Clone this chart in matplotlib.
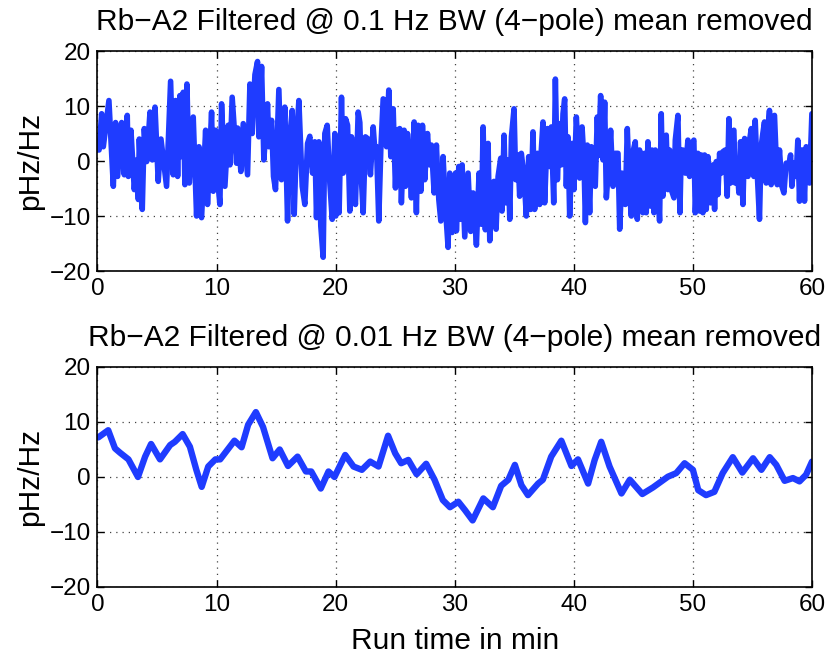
import matplotlib
matplotlib.use("Agg")
import matplotlib.pyplot as plt

# ---- data: top panel (0.1 Hz BW), minutes / pHz/Hz ----
t_top = [0.0, 0.13, 0.35, 0.49, 0.96, 1.33, 1.52, 1.69, 2.03, 2.25, 2.5, 2.59, 2.81, 3.09, 3.29, 3.43, 3.51, 3.76,
         3.93, 4.13, 4.41, 4.6, 4.83, 5.1, 5.33, 5.8, 6.14, 6.36, 6.56, 6.73, 6.92, 7.06, 7.2, 7.34, 7.51, 7.71,
         8.04, 8.32, 8.52, 8.74, 9.08, 9.24, 9.58, 9.72, 9.92,
         10.0, 10.14, 10.28, 10.42, 10.7, 10.98, 11.12, 11.31, 11.68, 11.76, 12.04, 12.24, 12.6, 12.8, 12.99,
         13.22, 13.44, 13.55, 13.78, 13.97, 14.28, 14.39, 14.62, 14.78, 14.95, 15.23, 15.45, 15.73, 15.96,
         16.15, 16.35, 16.52, 16.71, 16.91, 17.19, 17.41, 17.64, 17.83, 18.06, 18.25, 18.39, 18.59, 18.75,
         18.95, 19.09, 19.29, 19.51, 19.71, 19.93,
         20.01, 20.15, 20.29, 20.49, 20.63, 20.83, 21.0, 21.19, 21.33, 21.47, 21.66, 21.89, 22.03, 22.17,
         22.31, 22.5, 22.73, 22.92, 23.15, 23.29, 23.43, 23.62, 23.79, 23.99, 24.13, 24.27, 24.46, 24.63,
         24.83, 25.02, 25.19, 25.38, 25.52, 25.75, 25.86, 26.03, 26.22, 26.36, 26.59, 26.78, 26.92, 27.15,
         27.29, 27.48, 27.71, 27.9, 28.04, 28.27, 28.46, 28.66, 28.83, 29.02, 29.22, 29.44, 29.58, 29.78,
         29.94, 30.06,
         30.14, 30.34, 30.5, 30.62, 30.84, 31.12, 31.34, 31.54, 31.82, 32.04, 32.24, 32.38, 32.57, 32.8,
         32.94, 33.13, 33.3, 33.47, 33.64, 33.86, 33.97, 34.14, 34.28, 34.48, 34.62, 34.76, 34.98, 35.12,
         35.31, 35.45, 35.59, 35.82, 36.01, 36.21, 36.38, 36.57, 36.71, 36.94, 37.13, 37.27, 37.41, 37.55,
         37.78, 37.97, 38.11, 38.31, 38.45, 38.62, 38.81, 38.95, 39.09, 39.23, 39.37, 39.51, 39.65, 39.85,
         40.01, 40.21,
         40.49, 40.69, 40.85, 40.97, 41.13, 41.33, 41.47, 41.61, 41.8, 41.97, 42.08, 42.25, 42.45, 42.59,
         42.73, 42.92, 43.09, 43.29, 43.48, 43.71, 43.85, 44.04, 44.21, 44.32, 44.49, 44.69, 44.83, 44.97,
         45.16, 45.33, 45.52, 45.66, 45.8, 45.94, 46.08, 46.22, 46.45, 46.56, 46.73, 46.84, 47.06, 47.2,
         47.34, 47.48, 47.62, 47.76, 47.9, 48.04, 48.18, 48.41, 48.52, 48.74, 48.91, 49.02, 49.16, 49.36,
         49.58, 49.72, 49.92, 50.08, 50.2,
         50.42, 50.56, 50.7, 50.84, 50.98, 51.12, 51.26, 51.48, 51.68, 51.82, 51.96, 52.1, 52.24, 52.38,
         52.52, 52.71, 52.88, 53.02, 53.16, 53.27, 53.44, 53.55, 53.72, 53.86, 54.0, 54.2, 54.34, 54.48,
         54.62, 54.76, 54.9, 55.12, 55.23, 55.4, 55.59, 55.73, 55.87, 56.01, 56.15, 56.29, 56.43, 56.57,
         56.71, 56.85, 57.08, 57.27, 57.47, 57.64, 57.83, 58.03, 58.2, 58.31, 58.48, 58.67, 58.81, 58.95,
         59.09, 59.23, 59.37, 59.51, 59.65, 59.79, 59.99]
v_top = [3.0, 2.0, 8.6, 2.6, 11.0, -4.6, 7.0, -2.8, 7.0, -2.5, 8.3, -2.8, 5.6, -5.2, 0.2, -7.0, 4.0, -8.8,
         5.9, -0.1, 8.9, 0.2, 9.8, -3.7, 4.0, -4.6, 14.5, -2.5, 11.0, -2.8, 11.9, 0.8, 12.5, -4.3, 14.0, -4.0,
         8.0, -10.0, 2.6, -10.3, 5.6, -7.9, 8.9, -5.5, 5.6,
         5.0, -4.6, -7.9, 10.4, -4.6, 6.5, -0.7, 11.6, -0.4, 6.0, -1.9, 6.8, -2.5, 14.0, 5.0,
         15.7, 18.1, 4.4, 17.2, 0.2, 10.4, 2.6, 7.4, -2.8, -5.2, 13.0, -3.4, 9.8, -10.9,
         4.4, 9.2, -9.7, 3.8, 11.0, -4.6, -7.9, 3.2, 4.5, -2.2, 3.5, -10.3, 3.5, -11.8,
         -17.5, 5.0, 6.5, -4.0, -10.6, 5.0,
         -10.0, 4.0, -9.4, 11.6, -2.2, 7.7, 6.5, -9.1, 4.4, -4.0, -7.9, 8.9, 7.0, -3.7,
         -9.4, 4.4, 4.0, -2.5, 6.2, 2.0, 2.6, -10.9, 2.0, 11.3, 11.0, 2.6, 12.9, 0.8,
         9.5, -4.9, 5.6, 5.9, -7.6, 5.6, -4.6, 5.0, -0.7, -6.7, 7.1, -9.4, 6.5, -5.5,
         6.5, -3.4, 5.0, -0.7, 2.9, -5.8, 2.9, -7.0, -10.9, 0.8, -8.5, -15.7, -2.2, -13.0,
         -4.0, -2.2,
         -12.7, -1.0, -10.6, -0.7, -13.8, -2.2, -12.8, -5.8, -15.3, -2.2, -11.5, 6.2, -12.5, 3.2,
         -14.5, -4.0, -3.7, -12.4, -2.8, 0.5, -9.1, 4.7, -7.6, 0.2, -10.6, 4.4, 9.5, -3.4,
         1.1, -6.4, 1.4, -2.8, -10.0, 0.8, -8.8, 5.3, -8.8, 1.4, -7.9, 2.0, 7.1, -7.6,
         5.9, -1.0, 6.2, -7.6, 14.9, -3.4, 6.8, -0.7, 8.6, 11.3, -4.6, 4.4, -10.0, 3.2,
         -5.2, 8.0,
         -3.1, 6.2, 0.2, -11.2, 2.9, -9.4, 2.6, -4.0, -4.6, 8.0, 1.0, 11.9, 0.2, 10.7,
         -6.7, -1.0, 5.6, -4.6, 1.4, 1.4, -12.4, -2.2, -2.8, -7.9, 5.9, -6.1, -10.0, 1.7,
         3.5, -10.6, 2.0, -4.0, -9.4, 1.4, -9.4, 3.5, -8.2, 2.0, -9.4, 2.0, -4.0, -10.9,
         8.6, -6.4, 0.2, 4.7, -5.2, 2.0, -5.2, -6.7, 3.8, 8.3, -9.4, 2.0, 2.0, -2.2,
         3.8, -2.8, 3.2, 3.8, -9.4,
         1.4, -9.1, 1.1, -9.4, 1.1, -8.8, 0.8, -7.6, -0.7, -8.8, -0.1, -6.1, 1.4, -2.2,
         1.7, 2.0, -6.4, 7.7, -4.0, 5.3, 5.6, -4.0, -1.0, -5.8, 3.5, -7.9, 4.1, 2.6,
         -2.8, 3.8, 5.9, -2.8, 7.4, -2.2, -10.6, 2.6, 5.0, 7.1, -4.0, 5.6, 9.2, -4.3,
         8.0, 8.3, -4.3, 2.0, -4.6, -5.8, -0.4, -1.0, 1.1, -4.6, -0.4, -2.8, 3.8, -7.3,
         2.0, 2.0, -7.3, 2.6, 2.3, -4.0, 8.6]

# ---- data: bottom panel (0.01 Hz BW) ----
t_bot = [0.07, 0.9, 1.47, 1.9, 2.6, 3.4, 4.0, 4.5, 5.25, 6.1, 6.5, 7.15, 7.76, 8.3, 8.75, 9.3, 9.9, 10.3,
         10.9, 11.5, 12.1, 12.65, 13.3, 13.9, 14.7, 15.3, 16.0, 16.8, 17.5, 17.95, 18.75, 19.4, 19.9, 20.8,
         21.5, 22.2, 22.9, 23.6, 24.4, 25.0, 25.5, 26.1, 26.8, 27.6, 28.3, 29.0, 29.6, 30.3, 30.85, 31.5,
         32.4, 33.2, 33.9, 34.5, 35.05, 35.6, 36.15, 37.0, 37.4, 38.1, 38.95, 39.8, 40.35, 41.2, 41.75,
         42.3, 43.0, 44.0, 44.7, 45.75, 46.65, 47.9, 48.6, 49.3, 50.0, 50.45, 51.1, 51.8, 52.5, 53.35,
         54.15, 55.05, 55.75, 56.45, 57.0, 57.7, 58.4, 58.95, 59.5, 60.0]
v_bot = [7.2, 8.5, 5.2, 4.4, 3.2, 0.0, 3.7, 6.0, 3.2, 5.8, 6.4, 7.8, 5.5, 1.3, -1.8, 1.9, 3.2, 3.2,
         4.9, 6.6, 5.4, 9.5, 11.8, 9.1, 3.4, 5.0, 2.0, 3.7, 1.0, 1.0, -2.1, 1.0, 0.0, 4.0,
         1.9, 1.3, 2.8, 1.9, 7.5, 4.3, 2.5, 3.1, 0.5, 2.4, -0.5, -4.2, -5.5, -4.5, -6.0, -7.9,
         -3.9, -5.5, -1.6, -0.5, 2.2, -1.5, -3.3, -1.2, -0.5, 3.7, 6.6, 2.0, 3.2, -1.2, 3.1,
         6.4, 1.9, -3.0, -0.5, -3.1, -1.9, 0.05, 0.7, 2.5, 1.3, -2.4, -3.3, -2.7, 0.7, 3.6,
         0.8, 3.4, 1.3, 3.6, 2.2, -0.7, -0.2, -0.8, 0.4, 2.8]

x_ticks = [0, 10, 20, 30, 40, 50, 60]
y_ticks = [-20, -10, 0, 10, 20]
titles = ["Rb\u2212A2 Filtered @ 0.1 Hz BW (4\u2212pole) mean removed",
          "Rb\u2212A2 Filtered @ 0.01 Hz BW (4\u2212pole) mean removed"]
ylabel = "pHz/Hz"
xlabel = "Run time in min"

plt.rcParams['font.family'] = ['Liberation Sans', 'DejaVu Sans']
color = '#1f3cff'

fig = plt.figure(figsize=(8.29, 6.61), dpi=100)
ax1 = fig.add_axes([0.1176, 0.590, 0.8619, 0.3328])
ax2 = fig.add_axes([0.1176, 0.112, 0.8619, 0.3328])

def ytl(v):
    return "\u2212" + str(-v) if v < 0 else str(v)

for ax, (t, v), title, lw in [(ax1, (t_top, v_top), titles[0], 4.0),
                              (ax2, (t_bot, v_bot), titles[1], 4.6)]:
    ax.plot(t, v, color=color, lw=lw, solid_joinstyle='round', solid_capstyle='round')
    ax.set_xlim(0, 60)
    ax.set_ylim(-20, 20)
    ax.set_xticks(x_ticks)
    ax.set_yticks(y_ticks)
    ax.set_yticklabels([ytl(y) for y in y_ticks])
    ax.grid(True, linestyle=(0, (1, 4)), color='#444444', linewidth=0.9)
    ax.tick_params(direction='in', top=True, right=True, labelsize=17.5, length=5, width=1, pad=5)
    for s in ax.spines.values():
        s.set_linewidth(1.2)
    ax.set_title(title, fontsize=21.5, pad=15)
    ax.set_ylabel(ylabel, fontsize=21.5, labelpad=4)

ax2.set_xlabel(xlabel, fontsize=21.5, labelpad=8)

fig.savefig("out.png", dpi=100)
